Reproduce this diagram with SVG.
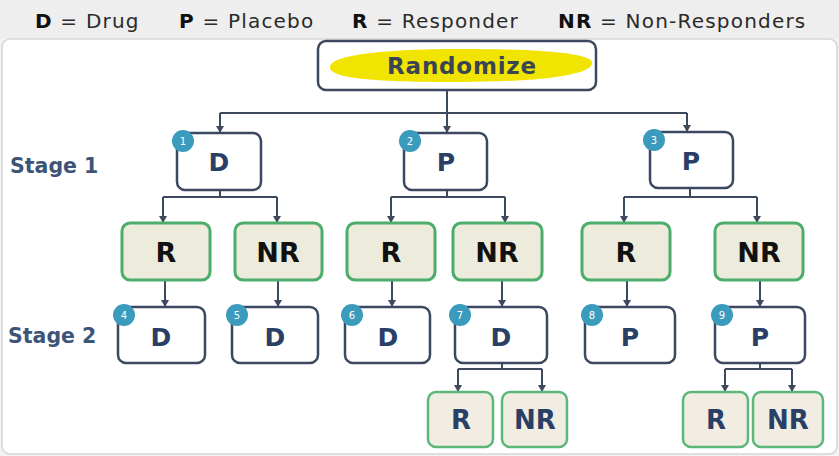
<svg xmlns="http://www.w3.org/2000/svg" width="839" height="456" viewBox="0 0 839 456">
<defs>
<marker id="dn" markerUnits="userSpaceOnUse" markerWidth="8" markerHeight="8" refX="7" refY="4" orient="auto" viewBox="0 0 8 8">
<path d="M0,0 L7,4 L0,8 Z" fill="#3d4a5e"/>
</marker>
</defs>
<style>
.leg{font-family:"DejaVu Sans",Verdana,sans-serif;font-size:20px;letter-spacing:1.2px;fill:#2a2a2a}
.legb{font-weight:bold;fill:#111}
.stage{font-family:"DejaVu Sans",Verdana,sans-serif;font-size:20.5px;font-weight:bold;fill:#3d5478}
.tx{fill:#fff;stroke:#3b4860;stroke-width:2.5}
.gr{fill:#ecebdc;stroke:#4cae6a;stroke-width:3}
.gr2{fill:#f1ede2;stroke:#5cb87a;stroke-width:2.5}
.lbl{font-family:"DejaVu Sans",Verdana,sans-serif;font-weight:bold;font-size:25px;fill:#2a3f66;text-anchor:middle}
.lblk{font-family:"DejaVu Sans",Verdana,sans-serif;font-weight:bold;font-size:27px;fill:#111;text-anchor:middle}
.lbln{font-family:"DejaVu Sans",Verdana,sans-serif;font-weight:bold;font-size:26px;fill:#2a3f66;text-anchor:middle}
.bd{fill:#3b9bbd}
.num{font-family:"DejaVu Sans",Verdana,sans-serif;font-size:10px;fill:#fff;text-anchor:middle}
.cn{fill:none;stroke:#3d4a5e;stroke-width:2}
</style>
<rect x="0" y="0" width="839" height="456" fill="#f3f3f3"/>
<rect x="0" y="0" width="839" height="39" fill="#eeeeee"/>
<rect x="2" y="39" width="835" height="415" rx="8" fill="#ffffff" stroke="#d6d6d6" stroke-width="1.5"/>
<g id="legend">
<text class="leg" x="35" y="28"><tspan class="legb">D</tspan> = Drug</text>
<text class="leg" x="179" y="28"><tspan class="legb">P</tspan> = Placebo</text>
<text class="leg" x="352" y="28"><tspan class="legb">R</tspan> = Responder</text>
<text class="leg" x="558" y="28"><tspan class="legb">NR</tspan> = Non-Responders</text>
</g>
<g id="stage-labels">
<text class="stage" x="10" y="173">Stage 1</text>
<text class="stage" x="8" y="343">Stage 2</text>
</g>
<g id="connectors">
<path class="cn" d="M447,90 V113 M220,113 H687"/>
<path class="cn" d="M220,113 V133" marker-end="url(#dn)"/>
<path class="cn" d="M447,113 V133" marker-end="url(#dn)"/>
<path class="cn" d="M687,113 V132" marker-end="url(#dn)"/>
<path class="cn" d="M220,190 V197 M163,197 H277"/>
<path class="cn" d="M163,197 V223" marker-end="url(#dn)"/>
<path class="cn" d="M277,197 V223" marker-end="url(#dn)"/>
<path class="cn" d="M447,190 V197 M391,197 H505"/>
<path class="cn" d="M391,197 V223" marker-end="url(#dn)"/>
<path class="cn" d="M505,197 V223" marker-end="url(#dn)"/>
<path class="cn" d="M690,188 V197 M624,197 H757"/>
<path class="cn" d="M624,197 V223" marker-end="url(#dn)"/>
<path class="cn" d="M757,197 V223" marker-end="url(#dn)"/>
<path class="cn" d="M165,280 V307" marker-end="url(#dn)"/>
<path class="cn" d="M278,280 V307" marker-end="url(#dn)"/>
<path class="cn" d="M392,280 V307" marker-end="url(#dn)"/>
<path class="cn" d="M502,280 V307" marker-end="url(#dn)"/>
<path class="cn" d="M627,280 V307" marker-end="url(#dn)"/>
<path class="cn" d="M760,280 V307" marker-end="url(#dn)"/>
<path class="cn" d="M502,363 V369 M458,369 H542"/>
<path class="cn" d="M458,369 V392" marker-end="url(#dn)"/>
<path class="cn" d="M542,369 V392" marker-end="url(#dn)"/>
<path class="cn" d="M760,363 V369 M725,369 H792"/>
<path class="cn" d="M725,369 V392" marker-end="url(#dn)"/>
<path class="cn" d="M792,369 V392" marker-end="url(#dn)"/>
</g>
<g id="randomize">
<rect class="tx" x="318" y="41" width="278" height="49" rx="8"/>
<path d="M330,68 C328,53 400,49 460,49 C530,49 588,52 592,62 C595,76 530,82 460,82 C390,82 332,80 330,68 Z" fill="#f0e400"/>
<text x="462" y="74" font-family="'DejaVu Sans',Verdana,sans-serif" font-weight="bold" font-size="23" letter-spacing="0.8" fill="#3a4452" text-anchor="middle">Randomize</text>
</g>
<g id="n1"><rect class="tx" x="177" y="133" width="84" height="57" rx="8"/><text class="lbl" x="219" y="171">D</text><circle class="bd" cx="183" cy="141" r="11"/><text class="num" x="183" y="145">1</text></g>
<g id="n2"><rect class="tx" x="404" y="133" width="83" height="57" rx="8"/><text class="lbl" x="446" y="171">P</text><circle class="bd" cx="410" cy="141" r="11"/><text class="num" x="410" y="145">2</text></g>
<g id="n3"><rect class="tx" x="650" y="132" width="83" height="56" rx="8"/><text class="lbl" x="691" y="170">P</text><circle class="bd" cx="654" cy="140" r="11"/><text class="num" x="654" y="144">3</text></g>
<g id="r1"><rect class="gr" x="122" y="223" width="88" height="57" rx="8"/><text class="lblk" x="166" y="262">R</text></g>
<g id="nr1"><rect class="gr" x="235" y="223" width="87" height="57" rx="8"/><text class="lblk" x="278" y="262">NR</text></g>
<g id="r2"><rect class="gr" x="347" y="223" width="88" height="57" rx="8"/><text class="lblk" x="391" y="262">R</text></g>
<g id="nr2"><rect class="gr" x="453" y="223" width="89" height="57" rx="8"/><text class="lblk" x="497" y="262">NR</text></g>
<g id="r3"><rect class="gr" x="582" y="223" width="88" height="57" rx="8"/><text class="lblk" x="626" y="262">R</text></g>
<g id="nr3"><rect class="gr" x="715" y="223" width="88" height="57" rx="8"/><text class="lblk" x="759" y="262">NR</text></g>
<g id="n4"><rect class="tx" x="118" y="307" width="87" height="56" rx="8"/><text class="lbl" x="161" y="346">D</text><circle class="bd" cx="124" cy="315" r="11"/><text class="num" x="124" y="319">4</text></g>
<g id="n5"><rect class="tx" x="232" y="307" width="86" height="56" rx="8"/><text class="lbl" x="275" y="346">D</text><circle class="bd" cx="237" cy="315" r="11"/><text class="num" x="237" y="319">5</text></g>
<g id="n6"><rect class="tx" x="345" y="307" width="85" height="56" rx="8"/><text class="lbl" x="388" y="346">D</text><circle class="bd" cx="352" cy="315" r="11"/><text class="num" x="352" y="319">6</text></g>
<g id="n7"><rect class="tx" x="455" y="307" width="92" height="56" rx="8"/><text class="lbl" x="501" y="346">D</text><circle class="bd" cx="460" cy="315" r="11"/><text class="num" x="460" y="319">7</text></g>
<g id="n8"><rect class="tx" x="585" y="307" width="90" height="56" rx="8"/><text class="lbl" x="630" y="346">P</text><circle class="bd" cx="592" cy="315" r="11"/><text class="num" x="592" y="319">8</text></g>
<g id="n9"><rect class="tx" x="715" y="307" width="90" height="56" rx="8"/><text class="lbl" x="760" y="346">P</text><circle class="bd" cx="722" cy="315" r="11"/><text class="num" x="722" y="319">9</text></g>
<g id="r4"><rect class="gr2" x="428" y="392" width="65" height="55" rx="8"/><text class="lbln" x="461" y="429">R</text></g>
<g id="nr4"><rect class="gr2" x="502" y="392" width="65" height="55" rx="8"/><text class="lbln" x="535" y="429">NR</text></g>
<g id="r5"><rect class="gr2" x="683" y="392" width="65" height="55" rx="8"/><text class="lbln" x="716" y="429">R</text></g>
<g id="nr5"><rect class="gr2" x="753" y="392" width="70" height="55" rx="8"/><text class="lbln" x="788" y="429">NR</text></g>
</svg>
